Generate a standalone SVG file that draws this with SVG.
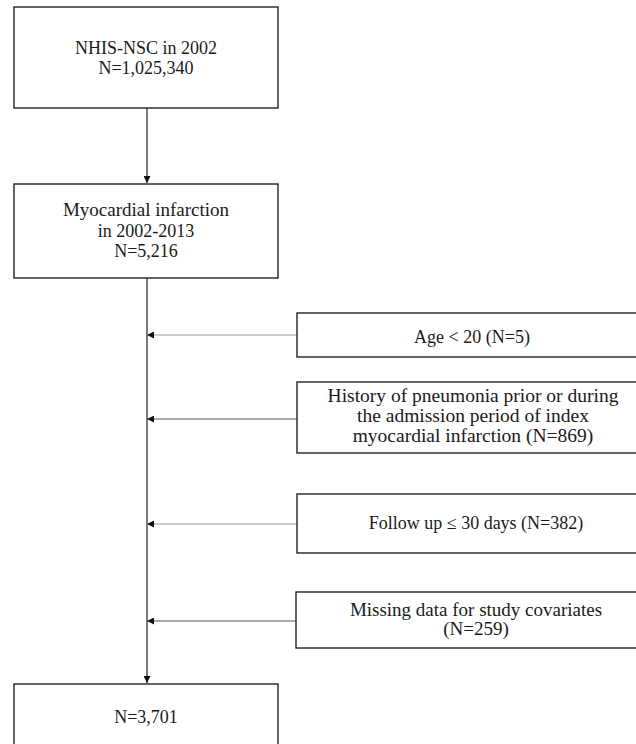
<svg xmlns="http://www.w3.org/2000/svg" width="636" height="744" viewBox="0 0 636 744">
<style>
.box{fill:#fff;stroke:#222;stroke-width:1.4}
.t{font-family:"Liberation Serif","Times New Roman",serif;font-size:18px;fill:#1a1a1a;text-anchor:middle}
.w{font-size:19px}
.ww{font-size:19.5px}
.main{stroke:#222;stroke-width:1.2;fill:none}
.ex1{stroke:#9a9a9a;stroke-width:1.2;fill:none}
.ex2{stroke:#555;stroke-width:1.2;fill:none}
</style>
<defs>
<marker id="ah" viewBox="0 0 10 10" refX="10" refY="5" markerWidth="8" markerHeight="7" markerUnits="userSpaceOnUse" orient="auto">
<path d="M0,0 L10,5 L0,10 Z" fill="#111"/>
</marker>
</defs>
<rect width="636" height="744" fill="#fff"/>
<g id="connectors">
<line class="main" x1="147" y1="108" x2="147" y2="183" marker-end="url(#ah)"/>
<line class="main" x1="147" y1="278" x2="147" y2="683" marker-end="url(#ah)"/>
<line class="ex1" x1="297" y1="335" x2="147" y2="335" marker-end="url(#ah)"/>
<line class="ex2" x1="297" y1="419" x2="147" y2="419" marker-end="url(#ah)"/>
<line class="ex1" x1="297" y1="524" x2="147" y2="524" marker-end="url(#ah)"/>
<line class="ex2" x1="297" y1="621" x2="147" y2="621" marker-end="url(#ah)"/>
</g>
<g id="n1">
<rect class="box" x="14" y="7" width="264" height="101"/>
<text class="t" x="146" y="54">NHIS-NSC in 2002</text>
<text class="t" x="146" y="74">N=1,025,340</text>
</g>
<g id="n2">
<rect class="box" x="14" y="184" width="264" height="94"/>
<text class="t w" x="146" y="216">Myocardial infarction</text>
<text class="t" x="146" y="236.5">in 2002-2013</text>
<text class="t" x="146" y="257">N=5,216</text>
</g>
<g id="n3">
<rect class="box" x="297" y="313" width="360" height="44"/>
<text class="t" x="472" y="343">Age &lt; 20 (N=5)</text>
</g>
<g id="n4">
<rect class="box" x="297" y="382" width="360" height="71"/>
<text class="t ww" x="473" y="402">History of pneumonia prior or during</text>
<text class="t ww" x="473" y="421.7">the admission period of index</text>
<text class="t ww" x="473" y="441.5">myocardial infarction (N=869)</text>
</g>
<g id="n5">
<rect class="box" x="297" y="494" width="360" height="59"/>
<text class="t" x="476" y="529">Follow up ≤ 30 days (N=382)</text>
</g>
<g id="n6">
<rect class="box" x="296" y="592" width="360" height="56"/>
<text class="t w" x="476" y="615.5">Missing data for study covariates</text>
<text class="t w" x="476" y="635">(N=259)</text>
</g>
<g id="n7">
<rect class="box" x="14" y="684" width="264" height="80"/>
<text class="t" x="146" y="722.5">N=3,701</text>
</g>
</svg>
